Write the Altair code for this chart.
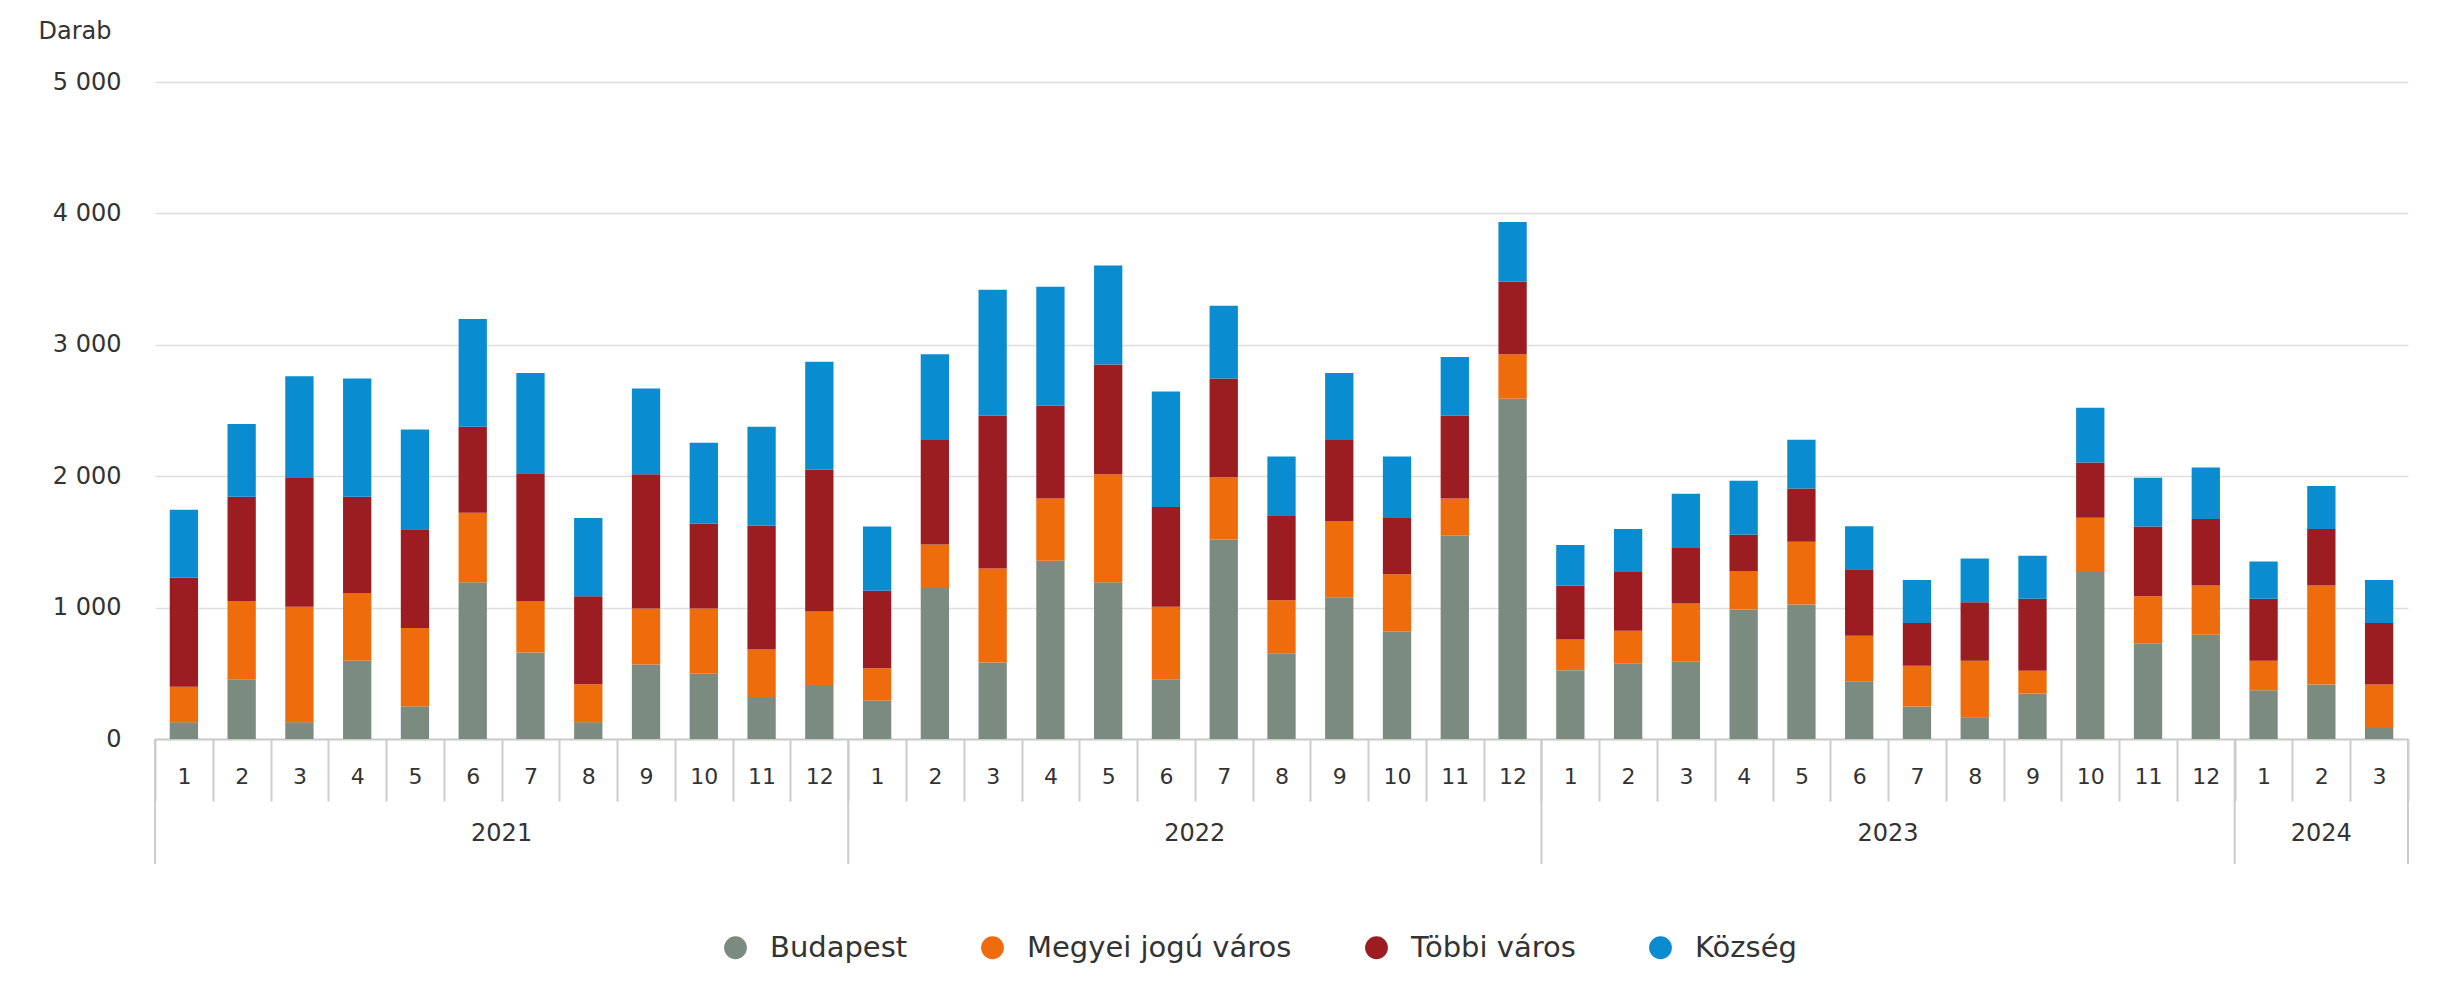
import altair as alt
import pandas as pd

# ---- data ----
years = ["2021", "2022", "2023", "2024"]
months_per_year = [12, 12, 12, 3]
series = ["Budapest", "Megyei jogú város", "Többi város", "Község"]
colors = ["#7b8b7f", "#ef6c0c", "#9b1d21", "#0a8dd0"]

budapest = [128, 454, 128, 596, 250, 1192, 658, 128, 567, 496, 320, 411,
            292, 1149, 582, 1356, 1192, 454, 1518, 653, 1078, 817, 1546, 2590,
            524, 576, 588, 985, 1023, 440, 248, 166, 345, 1271, 729, 793,
            371, 414, 84]
megyei = [269, 596, 879, 516, 595, 530, 392, 289, 426, 497, 361, 559,
          247, 332, 715, 474, 822, 553, 474, 402, 582, 437, 284, 338,
          236, 248, 443, 294, 479, 345, 310, 430, 174, 412, 358, 376,
          225, 755, 330]
tobbi = [831, 794, 985, 732, 752, 655, 973, 670, 1021, 647, 942, 1081,
         590, 794, 1163, 709, 837, 758, 751, 647, 615, 428, 630, 553,
         409, 447, 422, 276, 404, 507, 325, 445, 548, 422, 530, 506,
         471, 430, 469]
kozseg = [517, 553, 768, 899, 758, 820, 763, 595, 653, 615, 754, 820,
          488, 653, 959, 902, 752, 879, 554, 448, 511, 468, 448, 454,
          307, 328, 414, 410, 371, 327, 327, 333, 327, 415, 371, 392,
          284, 327, 327]

keys = [f"{y}-{m}" for y, n in zip(years, months_per_year) for m in range(1, n + 1)]

rows = []
for si, (name, vals) in enumerate(zip(series, [budapest, megyei, tobbi, kozseg])):
    for k, v in zip(keys, vals):
        rows.append({"key": k, "series": name, "value": v, "order": si})
df = pd.DataFrame(rows)

# year boundaries and label anchors
starts = []
i = 0
for n in months_per_year:
    starts.append(keys[i])
    i += n
df_starts = pd.DataFrame({"key": starts})
df_end = pd.DataFrame({"key": [keys[-1]]})
full_years = pd.DataFrame({"key": [f"{y}-6" for y in years[:3]], "year": years[:3]})
last_year = pd.DataFrame({"key": [f"{years[3]}-2"], "year": [years[3]]})

W, H = 2253, 657
FONT = "DejaVu Sans"
TXT = "#333333"
LINE = "#cccccc"

xscale = alt.Scale(domain=keys, paddingInner=0, paddingOuter=0)
xaxis = alt.Axis(title=None, labelAngle=0, labelExpr="split(datum.value, '-')[1]",
                 tickBand="extent", tickSize=62, tickColor=LINE, tickWidth=2,
                 domainColor=LINE, domainWidth=2, labelBaseline="middle",
                 labelPadding=-25, labelFontSize=22, labelFont=FONT,
                 labelColor=TXT, labelOverlap=False)

bars = alt.Chart(df).mark_bar(width=alt.RelativeBandSize(0.49)).encode(
    x=alt.X("key:O", scale=xscale, sort=keys, axis=xaxis),
    y=alt.Y("value:Q", stack="zero",
            scale=alt.Scale(domain=[0, 5000], nice=False),
            axis=alt.Axis(values=[0, 1000, 2000, 3000, 4000, 5000],
                          labelExpr="replace(format(datum.value, ','), ',', ' ')",
                          title="Darab", titleAngle=0, titleAlign="left", titleBaseline="middle",
                          titleX=-117, titleY=-51, titleFont=FONT, titleFontSize=24,
                          titleFontWeight="normal", titleColor=TXT,
                          labelFont=FONT, labelFontSize=24, labelColor=TXT, labelPadding=34,
                          ticks=False, domain=False, gridColor="#dedede", gridWidth=1.5)),
    color=alt.Color("series:N", scale=alt.Scale(domain=series, range=colors),
                    legend=alt.Legend(title=None, orient="none", direction="horizontal",
                                      legendX=566, legendY=851, padding=0,
                                      symbolType="circle", symbolSize=520, symbolStrokeWidth=0,
                                      labelFont=FONT, labelFontSize=29, labelColor=TXT,
                                      labelLimit=0, labelOffset=20, columnPadding=70)),
    order=alt.Order("order:Q"),
)

year_rules_start = alt.Chart(df_starts).mark_rule(color=LINE, strokeWidth=2).encode(
    x=alt.X("key:O", bandPosition=0, sort=keys, axis=xaxis),
    y=alt.value(H), y2=alt.value(H + 125),
)
year_rules_end = alt.Chart(df_end).mark_rule(color=LINE, strokeWidth=2).encode(
    x=alt.X("key:O", bandPosition=1, sort=keys, axis=xaxis),
    y=alt.value(H), y2=alt.value(H + 125),
)
year_text_full = alt.Chart(full_years).mark_text(
    font=FONT, fontSize=24, color=TXT, baseline="middle").encode(
    x=alt.X("key:O", bandPosition=1, sort=keys, axis=xaxis),
    y=alt.value(H + 95), text="year:N",
)
year_text_last = alt.Chart(last_year).mark_text(
    font=FONT, fontSize=24, color=TXT, baseline="middle").encode(
    x=alt.X("key:O", bandPosition=0.5, sort=keys, axis=xaxis),
    y=alt.value(H + 95), text="year:N",
)

chart = alt.layer(bars, year_rules_start, year_rules_end, year_text_full, year_text_last).properties(
    width=W, height=H,
    autosize=alt.AutoSizeParams(type="none"),
    padding={"left": 147, "top": 74, "right": 48, "bottom": 235},
).configure_view(stroke=None)

chart.save("out.html", embed_options={"renderer": "svg", "actions": False})
